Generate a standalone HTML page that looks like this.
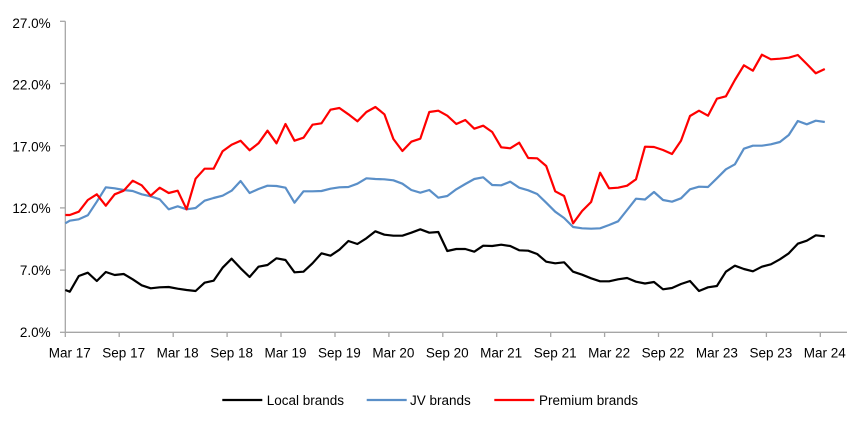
<!DOCTYPE html>
<html><head><meta charset="utf-8"><style>
html,body{margin:0;padding:0;background:#fff;}
svg{display:block;}
text{font-family:"Liberation Sans",Arial,sans-serif;font-size:13.5px;fill:#000;}
</style></head><body>
<svg width="852" height="428" viewBox="0 0 852 428" xmlns="http://www.w3.org/2000/svg">
<rect width="852" height="428" fill="#fff"/>
<g stroke="#a6a6a6" stroke-width="1.3" fill="none">
<line x1="65.3" y1="21.3" x2="65.3" y2="332.3"/>
<line x1="65.3" y1="332.3" x2="847" y2="332.3"/>
<line x1="60" y1="21.3" x2="65.3" y2="21.3"/>
<line x1="60" y1="83.5" x2="65.3" y2="83.5"/>
<line x1="60" y1="145.7" x2="65.3" y2="145.7"/>
<line x1="60" y1="207.9" x2="65.3" y2="207.9"/>
<line x1="60" y1="270.1" x2="65.3" y2="270.1"/>
<line x1="60" y1="332.3" x2="65.3" y2="332.3"/>
<line x1="65.3" y1="332.3" x2="65.3" y2="337"/>
<line x1="119.2" y1="332.3" x2="119.2" y2="337"/>
<line x1="173.2" y1="332.3" x2="173.2" y2="337"/>
<line x1="227.1" y1="332.3" x2="227.1" y2="337"/>
<line x1="281.0" y1="332.3" x2="281.0" y2="337"/>
<line x1="335.0" y1="332.3" x2="335.0" y2="337"/>
<line x1="388.9" y1="332.3" x2="388.9" y2="337"/>
<line x1="442.8" y1="332.3" x2="442.8" y2="337"/>
<line x1="496.7" y1="332.3" x2="496.7" y2="337"/>
<line x1="550.7" y1="332.3" x2="550.7" y2="337"/>
<line x1="604.6" y1="332.3" x2="604.6" y2="337"/>
<line x1="658.5" y1="332.3" x2="658.5" y2="337"/>
<line x1="712.5" y1="332.3" x2="712.5" y2="337"/>
<line x1="766.4" y1="332.3" x2="766.4" y2="337"/>
<line x1="820.3" y1="332.3" x2="820.3" y2="337"/>
</g>
<g text-anchor="end">
<text x="50.7" y="27.8">27.0%</text>
<text x="50.7" y="89.5">22.0%</text>
<text x="50.7" y="151.5">17.0%</text>
<text x="50.7" y="213">12.0%</text>
<text x="50.7" y="275">7.0%</text>
<text x="50.7" y="337">2.0%</text>
</g>
<g text-anchor="middle">
<text x="69.8" y="357.5">Mar 17</text>
<text x="123.7" y="357.5">Sep 17</text>
<text x="177.7" y="357.5">Mar 18</text>
<text x="231.6" y="357.5">Sep 18</text>
<text x="285.5" y="357.5">Mar 19</text>
<text x="339.4" y="357.5">Sep 19</text>
<text x="393.4" y="357.5">Mar 20</text>
<text x="447.3" y="357.5">Sep 20</text>
<text x="501.2" y="357.5">Mar 21</text>
<text x="555.2" y="357.5">Sep 21</text>
<text x="609.1" y="357.5">Mar 22</text>
<text x="663.0" y="357.5">Sep 22</text>
<text x="716.9" y="357.5">Mar 23</text>
<text x="770.9" y="357.5">Sep 23</text>
<text x="824.8" y="357.5">Mar 24</text>
</g>
<g fill="none" stroke-width="2.2" stroke-linejoin="round">
<polyline stroke="#5A8FC8" points="65.3,223.3 69.8,220.7 78.8,219.3 87.8,215.3 96.8,201.7 105.8,187.3 114.7,188.3 123.7,190 132.7,191 141.7,194.3 150.7,196.3 159.7,199.3 168.7,209.3 177.7,206.3 186.6,209.3 195.6,208 204.6,200.7 213.6,198 222.6,195.7 231.6,190.7 240.6,181 249.6,193 258.5,189 267.5,185.7 276.5,186 285.5,187.7 294.5,202.7 303.5,191.3 312.5,191.3 321.5,191 330.5,188.7 339.4,187.3 348.4,187 357.4,183.7 366.4,178.3 375.4,179 384.4,179.3 393.4,180.3 402.4,183.7 411.3,190 420.3,192.7 429.3,190 438.3,197.7 447.3,196 456.3,189.3 465.3,184 474.3,179 483.2,177.3 492.2,185 501.2,185.3 510.2,181.7 519.2,187.7 528.2,190.3 537.2,194 546.2,202.7 555.2,211.7 564.1,218 573.1,227 582.1,228.3 591.1,228.7 600.1,228.3 609.1,225 618.1,221.3 627.1,210 636.0,198.7 645.0,199.5 654.0,192 663.0,200 672.0,201.7 681.0,198.3 690.0,189.3 699.0,186.7 708.0,187 716.9,178.3 725.9,169.3 734.9,164.3 743.9,148.7 752.9,145.7 761.9,145.7 770.9,144.3 779.9,142 788.8,135 797.8,121 806.8,124.3 815.8,120.7 824.8,122"/>
<polyline stroke="#000000" points="65.3,290 69.8,291.7 78.8,276 87.8,272.7 96.8,281 105.8,272 114.7,275 123.7,274 132.7,279.3 141.7,285.3 150.7,288.3 159.7,287.3 168.7,287 177.7,288.7 186.6,290 195.6,291 204.6,282.7 213.6,280.7 222.6,267.7 231.6,258.7 240.6,268.3 249.6,277 258.5,266.7 267.5,265 276.5,258.3 285.5,260 294.5,272.3 303.5,271.7 312.5,263.3 321.5,253.3 330.5,255.7 339.4,249.7 348.4,241 357.4,244 366.4,238.3 375.4,231.3 384.4,234.7 393.4,235.7 402.4,235.7 411.3,232.7 420.3,229.3 429.3,232.7 438.3,232 447.3,251 456.3,249 465.3,249 474.3,251.7 483.2,245.7 492.2,246 501.2,244.7 510.2,246 519.2,250.3 528.2,250.7 537.2,254 546.2,261.7 555.2,263.3 564.1,262.3 573.1,271.7 582.1,274.7 591.1,278.3 600.1,281.3 609.1,281.3 618.1,279.3 627.1,278 636.0,281.7 645.0,283.5 654.0,282 663.0,289.3 672.0,288 681.0,284 690.0,281 699.0,291 708.0,287.3 716.9,286 725.9,271.7 734.9,265.7 743.9,269 752.9,271.3 761.9,266.7 770.9,264.3 779.9,259.3 788.8,253.3 797.8,243.7 806.8,240.7 815.8,235.3 824.8,236.3"/>
<polyline stroke="#FF0000" points="65.3,215 69.8,215 78.8,211.7 87.8,200 96.8,194.3 105.8,205.7 114.7,194.3 123.7,190.7 132.7,180.7 141.7,185.3 150.7,195.7 159.7,187.7 168.7,193 177.7,190.7 186.6,209.3 195.6,178.7 204.6,168.7 213.6,168.7 222.6,151.3 231.6,144.7 240.6,140.7 249.6,150.3 258.5,143.3 267.5,130.7 276.5,143.3 285.5,124 294.5,140.7 303.5,137.7 312.5,124.7 321.5,123.3 330.5,109.7 339.4,108 348.4,114.3 357.4,121.3 366.4,112 375.4,107 384.4,114.3 393.4,139 402.4,151 411.3,141.7 420.3,138.7 429.3,112 438.3,110.7 447.3,115.7 456.3,124 465.3,120 474.3,128.7 483.2,125.7 492.2,132 501.2,147.3 510.2,148.3 519.2,142.7 528.2,158 537.2,158.3 546.2,166 555.2,191.3 564.1,196 573.1,223.3 582.1,211 591.1,202 600.1,172.7 609.1,188.3 618.1,187.7 627.1,185.7 636.0,179.3 645.0,146.7 654.0,147 663.0,150 672.0,154 681.0,140.7 690.0,116 699.0,110.7 708.0,115.7 716.9,98.7 725.9,96.3 734.9,80 743.9,65.3 752.9,70.7 761.9,54.7 770.9,59.3 779.9,58.7 788.8,57.7 797.8,55 806.8,64 815.8,73.3 824.8,69"/>
</g>
<g stroke-width="2.2">
<line x1="222.3" y1="400" x2="262.3" y2="400" stroke="#000"/>
<line x1="366.7" y1="400" x2="406.7" y2="400" stroke="#5A8FC8"/>
<line x1="494.3" y1="400" x2="534.3" y2="400" stroke="#FF0000"/>
</g>
<text x="266.7" y="405">Local brands</text>
<text x="410" y="405">JV brands</text>
<text x="539" y="405">Premium brands</text>
</svg>
</body></html>
